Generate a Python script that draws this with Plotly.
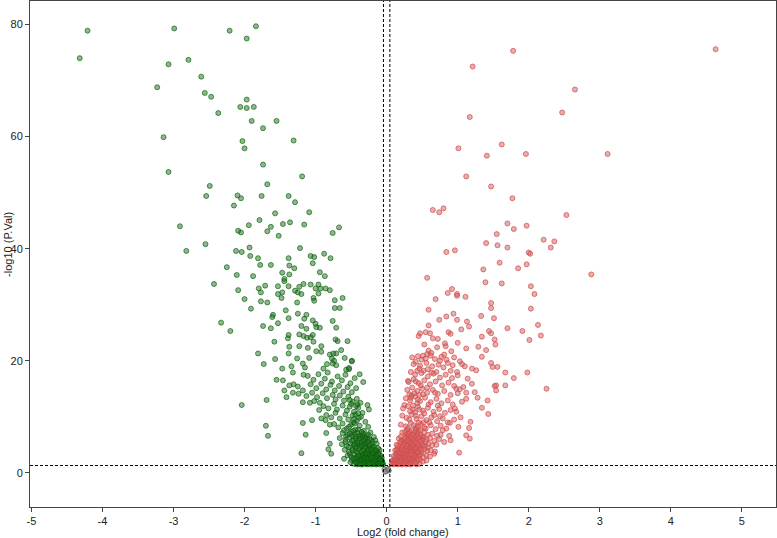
import plotly.graph_objects as go

# ---------------- data ----------------
# significantly down-regulated genes: (log2 fold change, -log10 P)
down_points = [
    (-4.21, 78.9), (-4.32, 74.0), (-2.99, 79.3), (-3.07, 72.9), (-2.79, 73.7), (-3.23, 68.8),
    (-2.61, 70.7), (-2.56, 67.8), (-2.47, 67.1), (-2.37, 64.2), (-2.21, 78.9), (-1.97, 77.5),
    (-1.84, 79.7), (-2.06, 65.3), (-1.97, 66.6), (-1.97, 65.1), (-1.87, 65.3), (-1.90, 62.8),
    (-2.03, 59.2), (-2.00, 57.9), (-3.14, 59.9), (-3.07, 53.7),
    (-1.55, 62.8), (-1.74, 61.5), (-1.31, 59.3), (-1.74, 55.0), (-1.19, 52.9), (-2.49, 51.2),
    (-1.68, 51.5), (-2.54, 49.4), (-2.10, 49.5), (-2.05, 49.0), (-1.76, 49.4), (-1.38, 49.4),
    (-1.29, 48.3), (-2.15, 47.7), (-1.57, 46.3), (-1.09, 46.5), (-2.91, 44.0), (-1.79, 45.1),
    (-1.94, 44.2), (-1.46, 44.4), (-1.36, 44.7), (-1.16, 44.3), (-1.63, 43.9), (-2.09, 43.2),
    (-2.05, 42.9), (-1.68, 43.1), (-1.52, 42.3), (-0.67, 43.8), (-0.76, 42.8), (-2.82, 39.6),
    (-2.55, 40.8), (-1.93, 40.2), (-1.22, 40.1), (-2.12, 39.6), (-2.04, 39.4), (-1.92, 38.7),
    (-0.88, 39.1), (-1.07, 38.7), (-1.02, 38.5), (-1.38, 38.3), (-1.81, 38.3), (-0.79, 38.3),
    (-1.04, 37.4), (-1.78, 37.1), (-1.63, 37.1), (-1.37, 37.0), (-2.25, 36.7), (-1.30, 36.5),
    (-1.47, 35.7), (-1.37, 35.4), (-0.94, 35.8), (-0.87, 35.1), (-2.11, 35.3), (-1.88, 35.1),
    (-1.44, 34.6), (-1.44, 34.2), (-2.43, 33.7), (-1.17, 33.7), (-1.07, 33.6), (-0.96, 33.6),
    (-1.71, 33.4), (-1.53, 33.3), (-1.38, 33.3), (-1.80, 32.9), (-1.23, 33.2), (-1.00, 32.9),
    (-0.93, 32.9), (-0.86, 32.9), (-0.80, 32.6), (-2.09, 32.6), (-1.77, 32.2), (-1.47, 32.2),
    (-1.29, 32.5), (-1.25, 32.2), (-1.20, 31.9), (-1.53, 31.9), (-0.96, 32.0), (-1.03, 31.2),
    (-0.62, 31.2), (-2.00, 31.0), (-1.48, 31.2), (-1.02, 30.7), (-0.73, 30.8), (-1.77, 30.6),
    (-1.68, 30.4), (-1.26, 30.4), (-1.91, 29.3), (-0.73, 29.4), (-0.66, 29.4), (-1.42, 29.0),
    (-1.60, 28.2), (-1.25, 28.4), (-1.13, 28.2), (-1.61, 27.8), (-1.38, 27.6), (-1.16, 27.5),
    (-1.04, 27.2), (-0.76, 27.1), (-1.53, 26.7), (-2.33, 26.8), (-1.00, 26.6), (-0.99, 26.0),
    (-1.20, 26.2), (-1.74, 26.2), (-1.63, 25.8), (-1.13, 25.7), (-0.94, 25.9), (-0.71, 25.9),
    (-2.20, 25.3), (-1.23, 24.7), (-1.17, 24.4), (-1.12, 24.1), (-1.07, 24.2), (-1.04, 24.6),
    (-1.38, 24.6), (-1.39, 24.0), (-0.72, 23.8), (-0.69, 23.5), (-0.55, 23.5), (-1.03, 23.4),
    (-1.58, 23.4), (-1.37, 22.5), (-1.23, 22.6), (-1.11, 22.3), (-0.92, 22.6), (-0.64, 21.9),
    (-0.99, 21.7), (-0.92, 21.6), (-1.81, 21.3), (-1.38, 21.3), (-0.80, 21.1), (-0.75, 21.3),
    (-0.71, 21.3), (-0.77, 20.4), (-0.74, 20.0), (-0.76, 19.5), (-0.59, 20.5), (-0.49, 20.0),
    (-1.26, 20.4), (-1.09, 20.5), (-1.57, 20.3), (-1.73, 19.4), (-1.34, 19.0), (-1.18, 19.5),
    (-1.15, 18.8), (-0.84, 19.4), (-1.47, 18.6), (-0.89, 18.6), (-0.71, 19.2), (-0.57, 18.4),
    (-0.53, 18.7),
    (-1.32, 17.9), (-1.17, 17.5), (-1.55, 16.6), (-1.46, 16.5), (-1.44, 14.7), (-1.37, 15.6),
    (-1.31, 15.8), (-1.25, 15.4), (-1.32, 14.3), (-1.24, 14.1), (-1.18, 14.7), (-1.41, 13.5),
    (-1.18, 12.6), (-1.08, 12.5), (-1.02, 12.8), (-0.94, 12.5), (-0.95, 11.2), (-0.92, 9.7),
    (-0.86, 9.4), (-0.80, 8.6), (-0.85, 7.1), (-0.80, 5.2), (-0.82, 4.2), (-0.78, 3.4),
    (-0.60, 2.5), (-0.27, 12.1), (-0.25, 11.3), (-0.38, 17.6), (-0.33, 16.2), (-0.49, 19.9),
    (-0.53, 18.5), (-2.04, 12.1), (-1.69, 13.0), (-1.70, 8.4), (-1.67, 6.6), (-1.20, 3.5),
    (-1.18, 8.9), (-1.14, 6.8), (-1.05, 9.4),
    (-1.11, 17.3), (-1.03, 16.6), (-0.96, 17.6), (-0.87, 16.8), (-0.83, 17.9), (-0.77, 16.3),
    (-0.69, 17.2), (-0.63, 16.5), (-0.58, 17.5), (-0.51, 16.0), (-0.45, 16.9), (-1.07, 15.8),
    (-0.99, 15.1), (-0.92, 15.9), (-0.85, 14.9), (-0.79, 15.7), (-0.73, 14.7), (-0.67, 15.5),
    (-0.61, 14.5), (-0.55, 15.3), (-0.49, 14.4), (-0.43, 15.1), (-1.13, 13.7), (-1.05, 14.3),
    (-0.98, 13.5), (-0.90, 14.2), (-0.84, 13.3), (-0.76, 13.9), (-0.72, 13.1), (-0.66, 13.8),
    (-0.60, 12.9), (-0.54, 13.6), (-0.48, 12.7), (-0.42, 13.2), (-0.37, 12.5), (-0.89, 11.9),
    (-0.82, 11.5), (-0.74, 12.3), (-0.70, 11.3), (-0.62, 12.0), (-0.56, 11.1), (-0.52, 11.8),
    (-0.46, 10.9), (-0.40, 11.6), (-0.34, 10.7), (-0.85, 10.3), (-0.78, 9.9), (-0.72, 10.7),
    (-0.66, 9.7), (-0.58, 10.4), (-0.54, 9.5), (-0.48, 10.2), (-0.42, 9.3), (-0.36, 10.0),
    (-0.30, 9.1), (-0.74, 8.7), (-0.68, 8.1), (-0.62, 8.8), (-0.56, 7.9), (-0.50, 8.6),
    (-0.44, 7.7), (-0.38, 8.4), (-0.32, 7.5), (-0.26, 8.2), (-0.47, 9.0), (-0.45, 8.8),
    (-0.46, 9.6), (-0.44, 10.4), (-0.43, 11.9), (-0.41, 12.2), (-0.40, 10.6), (-0.39, 9.8),
    (-0.50, 12.3), (-0.52, 13.0),
    (-0.62, 7.1), (-0.55, 6.8), (-0.50, 7.3), (-0.45, 6.9), (-0.41, 7.2), (-0.37, 6.7),
    (-0.33, 7.0), (-0.28, 6.6), (-0.23, 7.2), (-0.66, 6.2), (-0.58, 5.9), (-0.52, 6.3),
    (-0.47, 5.8), (-0.43, 6.1), (-0.39, 5.7), (-0.35, 6.3), (-0.31, 5.9), (-0.27, 6.2),
    (-0.22, 5.8), (-0.18, 6.4), (-0.63, 5.1), (-0.56, 4.8), (-0.51, 5.3), (-0.46, 4.9),
    (-0.42, 5.2), (-0.38, 4.7), (-0.34, 5.0), (-0.30, 5.4), (-0.26, 4.8), (-0.22, 5.1),
    (-0.18, 4.7), (-0.14, 5.2), (-0.59, 4.1), (-0.53, 3.8), (-0.48, 4.3), (-0.44, 3.9),
    (-0.40, 4.2), (-0.36, 3.7), (-0.32, 4.1), (-0.28, 3.8), (-0.25, 4.4), (-0.21, 3.9),
    (-0.17, 4.2), (-0.13, 3.8), (-0.10, 4.1), (-0.55, 3.1), (-0.50, 2.9), (-0.46, 3.3),
    (-0.42, 2.8), (-0.38, 3.2), (-0.35, 2.9), (-0.31, 3.4), (-0.28, 3.0), (-0.24, 2.7),
    (-0.21, 3.2), (-0.18, 2.9), (-0.15, 3.3), (-0.12, 2.8), (-0.09, 3.1), (-0.07, 2.7),
    (-0.49, 2.3), (-0.45, 2.1), (-0.41, 2.4), (-0.38, 2.0), (-0.35, 2.3), (-0.32, 2.1),
    (-0.29, 2.5), (-0.26, 2.0), (-0.23, 2.3), (-0.20, 2.1), (-0.17, 2.4), (-0.14, 2.0),
    (-0.11, 2.2), (-0.08, 2.4), (-0.06, 2.0), (-0.46, 1.6), (-0.42, 1.5), (-0.38, 1.7),
    (-0.34, 1.5), (-0.30, 1.6), (-0.27, 1.5), (-0.24, 1.7), (-0.21, 1.5), (-0.18, 1.6),
    (-0.15, 1.5), (-0.12, 1.7), (-0.09, 1.5), (-0.07, 1.6), (-0.05, 1.5), (-0.33, 1.9),
    (-0.29, 2.8), (-0.25, 3.5), (-0.19, 2.6), (-0.16, 1.8), (-0.13, 2.5), (-0.11, 3.5),
    (-0.27, 4.2), (-0.23, 1.8), (-0.37, 2.6), (-0.41, 3.6), (-0.31, 4.6), (-0.20, 4.5),
    (-0.44, 4.6), (-0.36, 5.4), (-0.40, 6.5), (-0.48, 6.6), (-0.29, 5.2), (-0.24, 6.0),
    (-0.34, 6.6), (-0.53, 4.6), (-0.58, 5.5), (-0.39, 1.6), (-0.17, 3.5), (-0.08, 1.8),
    (-0.43, 1.9), (-0.36, 2.2), (-0.31, 1.8), (-0.28, 2.2), (-0.25, 1.6), (-0.22, 2.6),
    (-0.19, 1.9), (-0.16, 2.2), (-0.13, 1.6), (-0.10, 2.6), (-0.10, 1.8), (-0.07, 2.2),
    (-0.06, 1.7), (-0.34, 3.2), (-0.30, 3.0), (-0.27, 2.6), (-0.23, 3.1), (-0.20, 3.4),
    (-0.16, 2.7), (-0.14, 3.0), (-0.12, 3.3), (-0.09, 2.4), (-0.40, 3.0), (-0.44, 2.6),
    (-0.33, 3.9), (-0.29, 3.5), (-0.26, 4.0), (-0.22, 4.3), (-0.19, 3.6), (-0.15, 4.0),
    (-0.12, 4.4), (-0.38, 4.4), (-0.35, 4.8), (-0.31, 5.2), (-0.27, 5.6), (-0.24, 4.9),
    (-0.20, 5.5), (-0.16, 5.8), (-0.41, 5.5), (-0.45, 5.1), (-0.49, 5.7), (-0.38, 6.1),
    (-0.33, 5.8), (-0.30, 6.3), (-0.26, 6.8), (-0.44, 6.5), (-0.52, 7.0), (-0.47, 7.5),
    (-0.40, 7.7), (-0.35, 7.3), (-0.57, 6.5), (-0.60, 7.6), (-0.53, 8.2), (-0.48, 4.0),
    (-0.52, 3.4), (-0.47, 2.6), (-0.51, 1.9), (-0.36, 1.5), (-0.32, 2.6), (-0.21, 2.8),
]

# significantly up-regulated genes
up_points = [
    (1.78, 75.3), (4.63, 75.6), (1.21, 72.5), (2.65, 68.4), (2.47, 64.3), (1.17, 63.5),
    (1.01, 57.9), (1.62, 58.6), (1.41, 56.6), (1.96, 56.9), (3.11, 56.9), (1.12, 52.9),
    (1.47, 51.1), (1.77, 49.0), (0.65, 46.9), (0.74, 46.5), (0.80, 47.2), (2.53, 46.0),
    (1.70, 44.5), (1.79, 43.5), (1.97, 44.1), (1.55, 42.6), (2.21, 41.6), (2.36, 41.3),
    (1.40, 41.0), (1.56, 40.6), (1.70, 40.2), (2.31, 40.2), (0.84, 39.4), (0.96, 39.7),
    (2.00, 39.3), (2.02, 39.1), (1.59, 37.5), (1.97, 37.2), (1.36, 36.3), (1.85, 36.5),
    (2.88, 35.4), (0.57, 34.8), (1.39, 34.0), (1.62, 33.8), (2.03, 33.3), (0.92, 32.8),
    (0.86, 32.1), (0.99, 31.9), (0.99, 31.6), (1.11, 31.4), (2.08, 31.9), (0.69, 31.0),
    (1.47, 30.3), (1.47, 29.4), (2.03, 29.3), (0.59, 29.1), (0.94, 28.4), (0.84, 27.9),
    (1.33, 28.0), (1.51, 27.6), (0.74, 27.3), (0.99, 27.3), (1.13, 27.0), (2.13, 26.4),
    (0.59, 26.3), (1.16, 26.1), (1.05, 25.6), (1.70, 25.8), (1.91, 25.3), (0.55, 25.1),
    (0.47, 24.9), (0.45, 24.4), (0.61, 24.9), (0.87, 25.1), (0.90, 24.8), (1.44, 25.3),
    (1.47, 24.9), (2.17, 24.5), (1.34, 24.3), (0.65, 24.0), (0.72, 23.9), (1.52, 23.8),
    (2.01, 23.7), (1.00, 23.2), (0.53, 22.9), (0.82, 23.1), (0.83, 22.6), (1.53, 22.9),
    (0.71, 22.4), (1.29, 22.5), (1.12, 22.2), (1.40, 21.9), (0.91, 21.7), (0.59, 21.8),
    (0.57, 21.2), (0.51, 20.9), (0.49, 20.2), (0.81, 21.1), (0.63, 21.4), (1.34, 20.7),
    (0.75, 20.0), (1.03, 19.9), (1.06, 19.4), (0.41, 19.8), (1.47, 19.6), (1.49, 18.9),
    (1.56, 18.9), (0.86, 19.6), (1.20, 18.6), (1.26, 18.3), (1.67, 17.9), (1.98, 17.9),
    (0.43, 18.2), (0.52, 18.2), (0.70, 18.0), (0.90, 18.2), (0.99, 18.0),
    (1.79, 16.9), (2.25, 15.0), (1.52, 15.5), (1.54, 15.6), (1.67, 15.6), (1.54, 14.7),
    (1.42, 12.9), (1.34, 11.6), (1.43, 10.5), (1.28, 13.4), (1.24, 14.4), (1.12, 14.3),
    (1.12, 13.2), (1.18, 9.1), (1.12, 6.7), (1.17, 6.1), (1.02, 3.6), (1.16, 8.0),
    (1.01, 8.2), (1.04, 9.9), (0.96, 11.5), (0.98, 10.9), (0.89, 8.9), (0.90, 5.8),
    (0.81, 5.5), (0.67, 3.4), (0.88, 6.6), (0.79, 7.6), (0.76, 6.8), (0.98, 15.0),
    (1.03, 14.9), (1.08, 15.3), (0.30, 16.4), (0.32, 14.0), (0.34, 13.4), (0.25, 12.1),
    (0.36, 20.6), (0.44, 20.8), (0.55, 20.4), (0.62, 20.9), (0.68, 20.3), (0.77, 20.7),
    (0.84, 20.2), (0.95, 20.6), (0.38, 19.4), (0.47, 19.1), (0.56, 19.6), (0.64, 19.0),
    (0.73, 19.3), (0.80, 18.8), (0.93, 19.2), (1.10, 19.0), (0.34, 18.0), (0.40, 17.5),
    (0.49, 17.8), (0.58, 17.2), (0.66, 17.7), (0.75, 17.0), (0.83, 17.5), (0.92, 16.9),
    (1.00, 17.4), (1.14, 16.8), (0.31, 16.2), (0.38, 16.7), (0.45, 16.0), (0.53, 16.5),
    (0.61, 15.8), (0.69, 16.3), (0.78, 15.6), (0.87, 16.1), (0.95, 15.5), (1.20, 15.9),
    (0.29, 14.8), (0.36, 15.2), (0.43, 14.6), (0.50, 15.0), (0.57, 14.3), (0.65, 14.8),
    (0.72, 14.1), (0.81, 14.6), (0.90, 13.9), (1.00, 14.2), (0.27, 13.3), (0.33, 12.9),
    (0.40, 13.6), (0.47, 12.8), (0.54, 13.4), (0.62, 12.6), (0.70, 13.2), (0.77, 12.4),
    (0.86, 12.9), (0.93, 12.2), (1.06, 12.7), (0.23, 11.5), (0.30, 11.9), (0.37, 11.3),
    (0.44, 11.8), (0.51, 11.1), (0.58, 11.6), (0.66, 10.9), (0.74, 11.4), (0.82, 10.7),
    (0.90, 11.2), (0.22, 10.2), (0.28, 9.8), (0.35, 10.4), (0.42, 9.6), (0.49, 10.1),
    (0.56, 9.4), (0.63, 9.9), (0.71, 9.2), (0.79, 9.7), (0.86, 9.0), (0.95, 9.5),
    (0.20, 8.6), (0.27, 8.3), (0.34, 8.9), (0.41, 8.1), (0.48, 8.7), (0.55, 7.9),
    (0.62, 8.5), (0.69, 7.8), (0.76, 8.4), (0.84, 7.9),
    (0.22, 7.2), (0.28, 6.8), (0.33, 7.3), (0.38, 6.9), (0.43, 7.1), (0.48, 6.7),
    (0.53, 7.2), (0.58, 6.8), (0.64, 7.0), (0.71, 6.6), (0.17, 6.1), (0.22, 5.8),
    (0.27, 6.3), (0.31, 5.9), (0.35, 6.2), (0.39, 5.7), (0.43, 6.1), (0.47, 5.8),
    (0.52, 6.3), (0.56, 5.9), (0.61, 6.2), (0.67, 5.7), (0.74, 6.0), (0.14, 5.0),
    (0.19, 5.3), (0.23, 4.8), (0.27, 5.1), (0.31, 4.7), (0.34, 5.2), (0.38, 4.9),
    (0.42, 5.3), (0.46, 4.8), (0.50, 5.1), (0.54, 4.7), (0.59, 5.2), (0.64, 4.9),
    (0.70, 5.0), (0.12, 4.0), (0.16, 4.3), (0.20, 3.8), (0.24, 4.1), (0.27, 3.7),
    (0.31, 4.2), (0.34, 3.9), (0.38, 4.3), (0.41, 3.8), (0.45, 4.1), (0.49, 3.7),
    (0.53, 4.2), (0.57, 3.9), (0.62, 4.0), (0.68, 3.8), (0.10, 3.0), (0.13, 3.3),
    (0.17, 2.8), (0.20, 3.2), (0.23, 2.9), (0.27, 3.3), (0.30, 2.8), (0.33, 3.1),
    (0.37, 2.7), (0.40, 3.2), (0.44, 2.9), (0.48, 3.3), (0.52, 2.8), (0.56, 3.1),
    (0.61, 2.9), (0.08, 2.2), (0.11, 2.0), (0.14, 2.4), (0.17, 2.1), (0.20, 2.3),
    (0.23, 2.0), (0.26, 2.4), (0.29, 2.1), (0.32, 2.3), (0.35, 2.0), (0.39, 2.4),
    (0.43, 2.1), (0.47, 2.3), (0.51, 2.0), (0.56, 2.2), (0.07, 1.6), (0.10, 1.5),
    (0.13, 1.7), (0.16, 1.5), (0.19, 1.6), (0.22, 1.5), (0.25, 1.7), (0.28, 1.5),
    (0.31, 1.6), (0.34, 1.5), (0.38, 1.7), (0.42, 1.5), (0.46, 1.6), (0.15, 3.6),
    (0.25, 2.6), (0.29, 4.5), (0.36, 3.5), (0.21, 4.6), (0.33, 5.6), (0.40, 6.5),
    (0.45, 7.5), (0.26, 5.6), (0.18, 2.6), (0.12, 1.9), (0.36, 4.5), (0.30, 6.6),
    (0.50, 6.5), (0.41, 4.6), (0.24, 3.4), (0.47, 4.5), (0.55, 5.5), (0.58, 4.5),
    (0.19, 4.1), (0.35, 7.6), (0.42, 7.8), (0.29, 7.7), (0.38, 8.5), (0.32, 9.5),
    (0.45, 9.0), (0.40, 10.8), (0.37, 12.0), (0.43, 12.4), (0.39, 14.2), (0.46, 13.9),
    (0.09, 1.9), (0.11, 2.4), (0.14, 1.6), (0.15, 2.1), (0.18, 1.8), (0.21, 2.1),
    (0.24, 1.8), (0.27, 2.0), (0.30, 2.5), (0.33, 1.8), (0.36, 2.4), (0.40, 1.8),
    (0.44, 2.5), (0.12, 2.8), (0.16, 3.1), (0.19, 2.9), (0.22, 3.4), (0.26, 3.0),
    (0.29, 3.4), (0.32, 2.7), (0.35, 3.2), (0.39, 2.9), (0.42, 3.5), (0.46, 3.1),
    (0.14, 4.1), (0.18, 3.6), (0.22, 4.2), (0.25, 3.9), (0.29, 4.0), (0.33, 4.4),
    (0.37, 4.0), (0.40, 4.3), (0.44, 3.7), (0.48, 4.1), (0.16, 4.8), (0.20, 5.6),
    (0.24, 5.2), (0.28, 4.8), (0.32, 5.4), (0.36, 5.0), (0.40, 5.5), (0.44, 5.0),
    (0.48, 5.5), (0.52, 4.9), (0.20, 6.5), (0.25, 6.1), (0.29, 5.8), (0.34, 6.4),
    (0.37, 6.0), (0.42, 6.8), (0.46, 6.3), (0.50, 5.9), (0.26, 7.3), (0.31, 7.0),
    (0.36, 6.8), (0.40, 7.3), (0.48, 7.6), (0.53, 8.1), (0.44, 8.3), (0.30, 8.0),
    (0.33, 11.0), (0.41, 10.2), (0.46, 11.3), (0.53, 10.6), (0.59, 12.2), (0.35, 13.8),
    (0.44, 13.1), (0.51, 14.0), (0.48, 15.6), (0.57, 15.2), (0.41, 16.3), (0.63, 17.9),
    (0.46, 18.6), (0.58, 18.5), (0.68, 14.3), (0.60, 9.0), (0.67, 10.3), (0.52, 9.0),
    (0.72, 12.0), (0.75, 10.1),
]

# non-significant genes
ns_points = [(-0.03, 0.6), (-0.01, 0.3), (0.01, 0.5), (0.03, 0.4), (0.02, 0.7), (-0.02, 0.2)]

x_ticks = [-5, -4, -3, -2, -1, 0, 1, 2, 3, 4, 5]
y_ticks = [0, 20, 40, 60, 80]
fc_cut = 0.045          # vertical dashed thresholds (±)
p_cut = 1.3             # -log10(0.05)

FONT = "Arial, Liberation Sans, sans-serif"

fig = go.Figure()


def add_group(points, fill, edge):
    fig.add_trace(go.Scatter(
        x=[p[0] for p in points], y=[p[1] for p in points],
        mode="markers",
        marker=dict(size=5, color=fill, line=dict(color=edge, width=1)),
        showlegend=False, hoverinfo="x+y",
    ))


add_group(ns_points, "rgba(150,150,150,0.5)", "rgba(100,100,100,0.8)")
add_group(down_points, "rgba(40,105,40,0.5)", "rgba(0,100,0,0.65)")
add_group(up_points, "rgba(205,95,95,0.5)", "rgba(215,75,75,0.72)")

dash = dict(color="black", width=1, dash="3px,2px")
fig.add_vline(x=-fc_cut, line=dash)
fig.add_vline(x=fc_cut, line=dash)
fig.add_hline(y=p_cut, line=dash)

axis_common = dict(
    showgrid=False, zeroline=False, showline=True, linecolor="#444", linewidth=1,
    mirror=True, ticks="outside", ticklen=4, tickcolor="#444", automargin=False,
    tickfont=dict(family=FONT, size=11, color="#222"),
)

fig.update_xaxes(range=[-5.02, 5.48], tickvals=x_ticks,
                 ticktext=[str(v) for v in x_ticks], **axis_common)
fig.update_yaxes(range=[-6.1, 84.2], tickvals=y_ticks,
                 ticktext=[str(v) for v in y_ticks], **axis_common)

fig.add_annotation(text="Log2 (fold change)", xref="paper", yref="paper", x=0.5, y=0,
                   yshift=-17, yanchor="top", showarrow=False,
                   font=dict(family=FONT, size=11, color="#222"))
fig.add_annotation(text="-log10 (P.Val)", xref="paper", yref="paper", x=0, y=0.518,
                   xshift=-22, xanchor="center", yanchor="middle", textangle=-90,
                   showarrow=False, font=dict(family=FONT, size=11, color="#222"))

fig.update_layout(
    width=777, height=538,
    margin=dict(l=30, r=1, t=1, b=31),
    plot_bgcolor="white", paper_bgcolor="white",
)

# remove the browser's default page margin so the figure sits at the window's corner
fig.write_html("out.html", config={"displayModeBar": False},
               post_script="document.body.style.margin='0';document.body.style.overflow='hidden';")
